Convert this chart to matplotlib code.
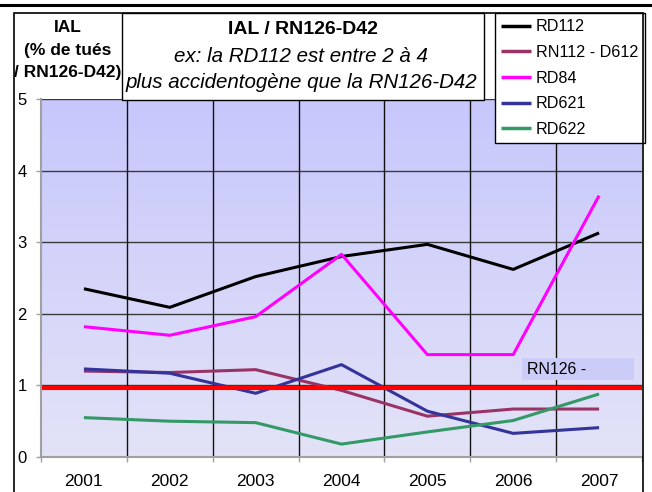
import matplotlib
matplotlib.use("Agg")
import matplotlib.pyplot as plt
from matplotlib.patches import Rectangle
from matplotlib.lines import Line2D
import numpy as np

plt.rcParams['font.family'] = ['Liberation Sans', 'DejaVu Sans']

years = ['2001', '2002', '2003', '2004', '2005', '2006', '2007']
rd112 = [2.35, 2.09, 2.52, 2.80, 2.97, 2.62, 3.13]
rn112_d612 = [1.20, 1.18, 1.22, 0.93, 0.57, 0.67, 0.67]
rd84 = [1.82, 1.70, 1.96, 2.83, 1.43, 1.43, 3.65]
rd621 = [1.23, 1.17, 0.89, 1.29, 0.64, 0.33, 0.41]
rd622 = [0.55, 0.50, 0.48, 0.18, 0.35, 0.51, 0.88]
reference_level = 0.97

series_names = ['RD112', 'RN112 - D612', 'RD84', 'RD621', 'RD622']
series_values = [rd112, rn112_d612, rd84, rd621, rd622]
series_colors = ['#000000', '#993366', '#ff00ff', '#333399', '#339966']

W, H = 652, 492
fig = plt.figure(figsize=(W / 100, H / 100), dpi=100)

def fx(px):
    return px / W

def fy(py):
    return 1 - py / H

# plot area
ax = fig.add_axes([fx(41), fy(457), fx(642) - fx(41), fy(99) - fy(457)])
x = np.arange(len(years))
ax.set_xlim(-0.5, len(years) - 0.5)
ax.set_ylim(0, 5)

# gradient background
grad = np.linspace(0, 1, 256).reshape(-1, 1)
top = np.array([0.78, 0.78, 0.99])
bot = np.array([0.89, 0.89, 0.97])
img = top[None, None, :] * (1 - grad[:, :, None]) + bot[None, None, :] * grad[:, :, None]
ax.imshow(img, extent=[-0.5, len(years) - 0.5, 0, 5], aspect='auto', zorder=0, origin='upper')

# grid
for yv in [1, 2, 3, 4, 5]:
    ax.axhline(yv, color='#3a3a3a', lw=1.0, zorder=1)
for xb in np.arange(0.5, len(years) - 0.5, 1):
    ax.axvline(xb, color='#111111', lw=1.0, zorder=1)

for name, vals, col in zip(series_names, series_values, series_colors):
    ax.plot(x, vals, color=col, lw=2.2, zorder=3, label=name, solid_capstyle='butt')

ax.axhline(reference_level, color='#ff0000', lw=3.0, zorder=4)

# axes styling
for s in ['top', 'right']:
    ax.spines[s].set_visible(False)
for s in ['left', 'bottom']:
    ax.spines[s].set_color('#a0a0a0')
    ax.spines[s].set_linewidth(1.5)
    ax.spines[s].set_zorder(5)

ax.set_yticks([0, 1, 2, 3, 4, 5])
ax.set_yticklabels(['0', '1', '2', '3', '4', '5'], fontsize=12)
ax.tick_params(axis='y', length=3.6, width=1, color='#a0a0a0', pad=6.5)
ax.set_xticks(np.arange(-0.5, len(years), 1))
ax.set_xticklabels([])
ax.tick_params(axis='x', which='major', length=3.6, width=1, color='#a0a0a0')
ax.set_xticks(x, minor=True)
ax.set_xticklabels(years, minor=True, fontsize=12.5)
ax.tick_params(axis='x', which='minor', length=0, pad=12.5)

# legend
leg = ax.legend(loc='upper left', bbox_to_anchor=(fx(495), fy(13)), bbox_transform=fig.transFigure,
                fontsize=11.6, frameon=True, fancybox=False, edgecolor='black', framealpha=1,
                borderpad=0.4, labelspacing=0.66, handlelength=1.85, handletextpad=0.3,
                borderaxespad=0)
leg.get_frame().set_linewidth(1.0)
for l in leg.get_lines():
    l.set_linewidth(2.5)
leg.set_zorder(10)

# chart border and top rule
fig.add_artist(Line2D([0, 1], [fy(5), fy(5)], transform=fig.transFigure, color='black', lw=2.2))
fig.add_artist(Rectangle((fx(14), fy(500)), fx(643) - fx(14), fy(13) - fy(500), transform=fig.transFigure,
                         fill=False, edgecolor='black', lw=1.2, zorder=8))

# title box
fig.add_artist(Rectangle((fx(122), fy(100)), fx(484) - fx(122), fy(13) - fy(100), transform=fig.transFigure,
                         facecolor='white', edgecolor='black', lw=1.0, zorder=9))
fig.text(fx(303), fy(30), 'IAL / RN126-D42', ha='center', va='center', fontsize=14,
         fontweight='bold', zorder=11)
fig.text(fx(301), fy(57), 'ex: la RD112 est entre 2 à 4', ha='center', va='center', fontsize=14.8,
         fontstyle='italic', zorder=11)
fig.text(fx(301), fy(83), 'plus accidentogène que la RN126-D42', ha='center', va='center', fontsize=14.8,
         fontstyle='italic', zorder=11)

# y axis title
fig.text(fx(68), fy(28), 'IAL', ha='center', va='center', fontsize=12.5, fontweight='bold')
fig.text(fx(68), fy(50), '(% de tués', ha='center', va='center', fontsize=12.5, fontweight='bold')
fig.text(fx(68), fy(72), '/ RN126-D42)', ha='center', va='center', fontsize=12.5, fontweight='bold')

# reference label
fig.add_artist(Rectangle((fx(522), fy(380)), fx(634) - fx(522), fy(358) - fy(380), transform=fig.transFigure,
                         facecolor='#ccccf8', edgecolor='none', zorder=6))
fig.text(fx(527), fy(369), 'RN126 -', ha='left', va='center', fontsize=11.5, zorder=7)

fig.savefig('out.png', dpi=100)
